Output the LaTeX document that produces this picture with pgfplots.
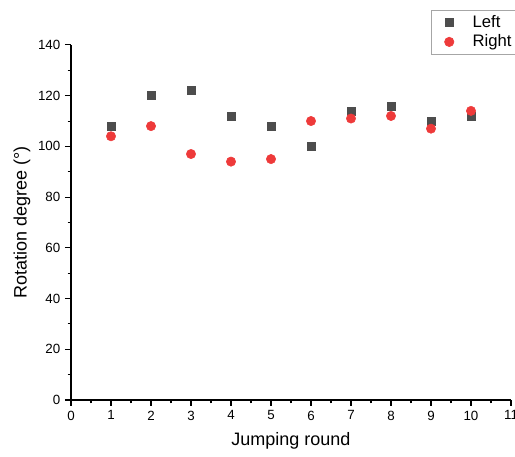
\documentclass[border=0pt]{standalone}
\usepackage{fontspec}
\setmainfont{Liberation Sans}
\usepackage{pgfplots}
\pgfplotsset{compat=1.18}
\definecolor{LeftGray}{HTML}{4D4D4D}
\definecolor{RightRed}{HTML}{EE3A3A}
\begin{document}
\begin{tikzpicture}
% page = 515x457 px at 0.75pt per px, axis origin at px (71,400)
\path[use as bounding box, clip] (-53.25pt,-42.75pt) rectangle (333pt,300pt);
\begin{axis}[
  anchor=origin, at={(0,0)},
  x=30pt, y=1.902pt,
  xmin=0, xmax=11, ymin=0, ymax=140,
  axis x line*=bottom, axis y line*=left,
  axis line style={black, line width=0.9pt},
  xtick={0,...,11}, ytick={0,20,...,140},
  minor x tick num=1, minor y tick num=1,
  tick align=outside,
  major tick length=4.5pt, minor tick length=2.5pt,
  every tick/.style={black, line width=0.8pt},
  ticklabel style={font=\fontsize{10}{12}\selectfont},
  /pgf/number format/assume math mode=true,
  xlabel={Jumping round}, ylabel={Rotation degree (°)},
  label style={font=\fontsize{13.5}{15}\selectfont},
  x label style={at={(axis description cs:0.5,-0.1155)}, anchor=center},
  y label style={at={(axis description cs:-0.1114,0.5)}, anchor=center},
  clip=false,
  legend style={at={(0.818,1.099)}, anchor=north west, draw=gray!70, line width=0.5pt,
    font=\fontsize{12.5}{14}\selectfont, row sep=0pt, column sep=12pt,
    inner xsep=10pt, inner ysep=2pt},
  legend cell align=left,
]
\addplot[only marks, mark=square*, mark size=3pt, color=LeftGray] coordinates {
  (1,108)(2,120)(3,122)(4,112)(5,108)(6,100)(7,114)(8,116)(9,110)(10,112)};
\addlegendentry{Left}
\addplot[only marks, mark=*, mark size=3.5pt, color=RightRed] coordinates {
  (1,104)(2,108)(3,97)(4,94)(5,95)(6,110)(7,111)(8,112)(9,107)(10,114)};
\addlegendentry{Right}
\end{axis}
\end{tikzpicture}
\end{document}
